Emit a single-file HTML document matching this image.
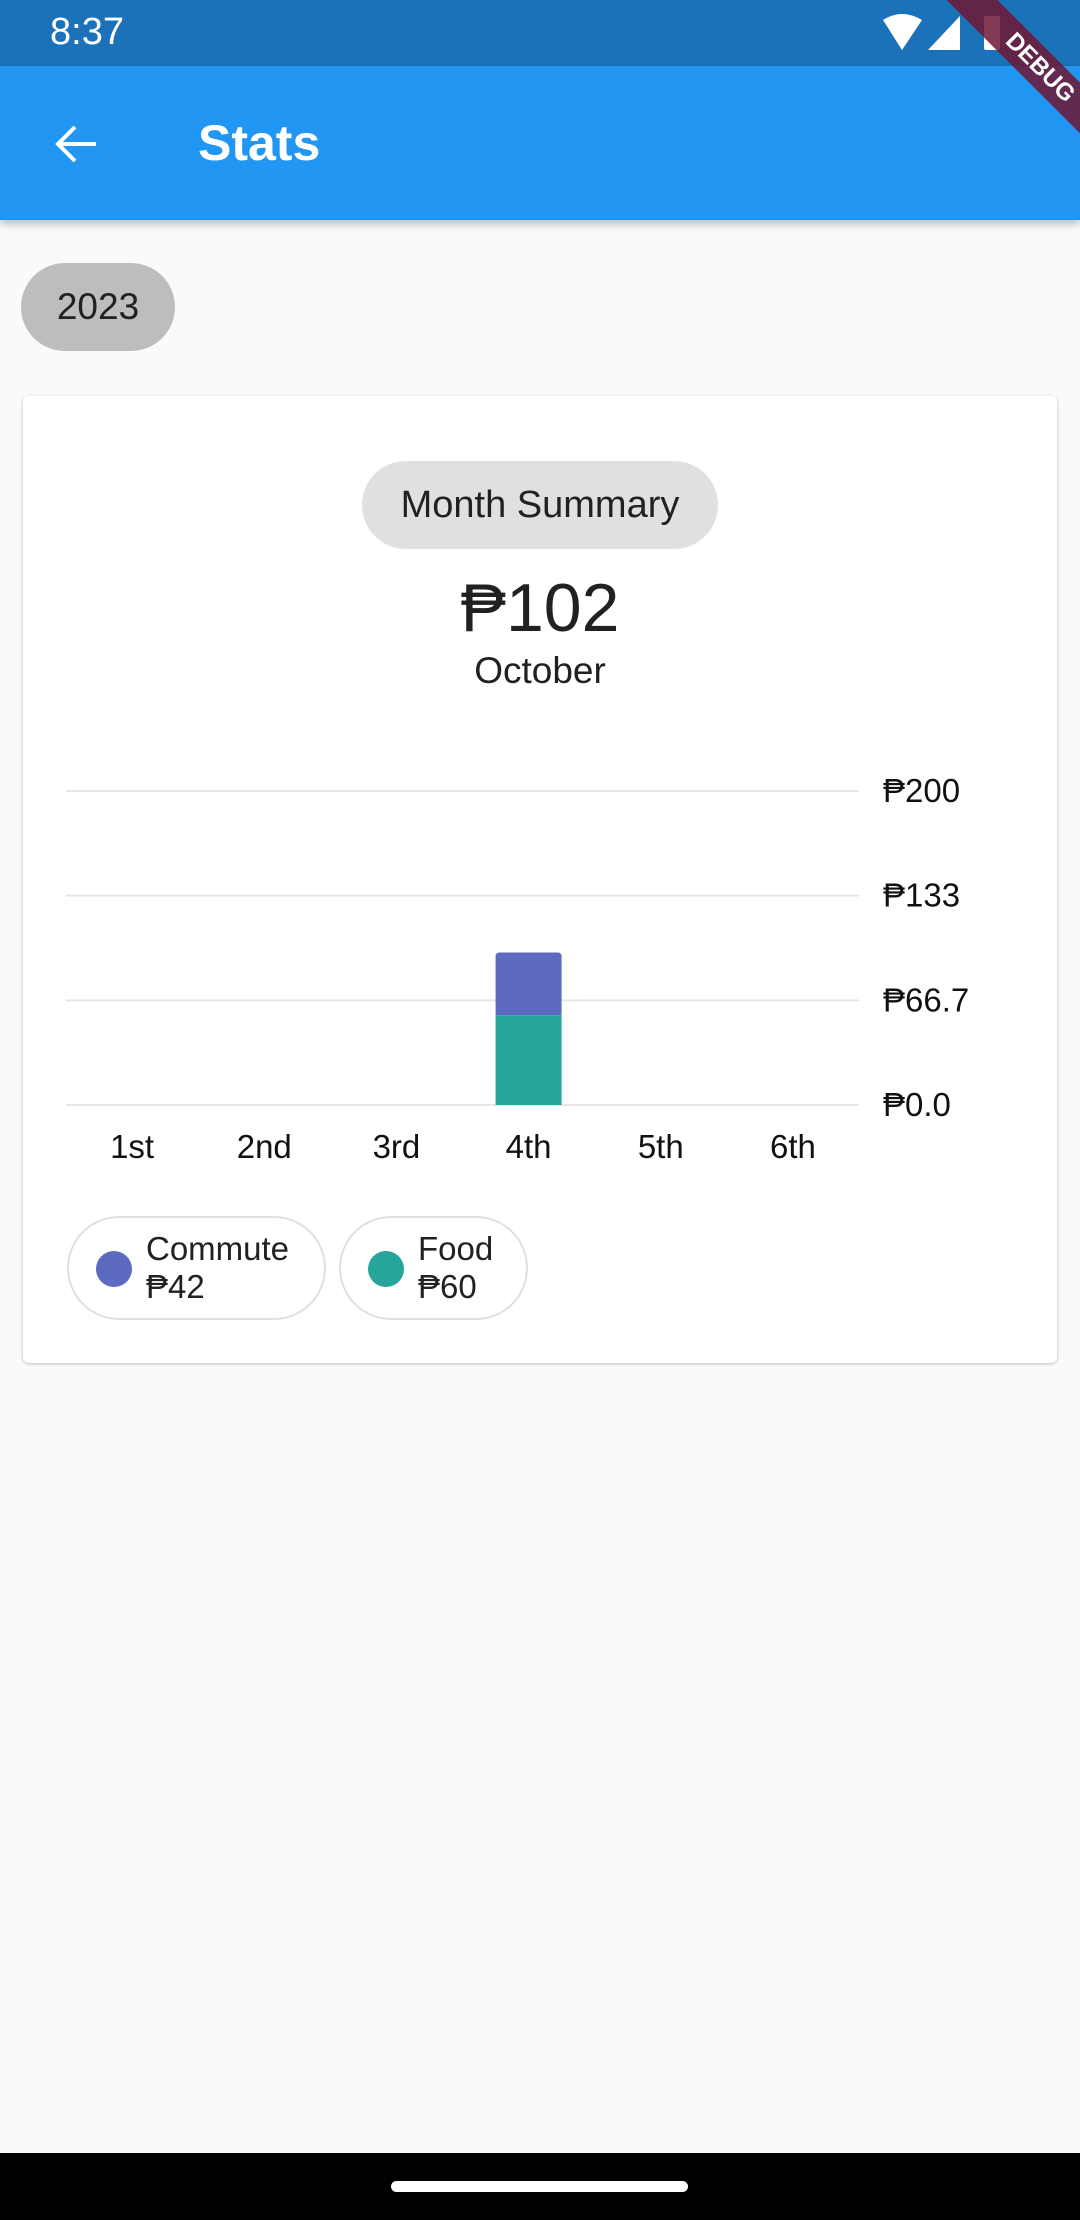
<!DOCTYPE html>
<html><head><meta charset="utf-8">
<style>
*{margin:0;padding:0;box-sizing:border-box}
body{width:1080px;height:2220px;background:#fafafa;font-family:"Liberation Sans",sans-serif;position:relative;overflow:hidden;color:#212121}
.abs{position:absolute}
</style></head><body>
<div class="abs" style="left:0;top:0;width:1080px;height:66px;background:#1b72b8">
  <div class="abs" style="left:50px;top:11px;color:#fff;font-size:38px">8:37</div>
  <svg class="abs" style="left:880px;top:14px" width="130" height="40">
    <path d="M3 6 Q22 -6 42 6 L22 36 Z" fill="#fff"/>
    <path d="M48 36 L80 2 L80 36 Z" fill="#fff"/>
    <rect x="104" y="2" width="16" height="34" rx="2" fill="#fff"/>
  </svg>
</div>
<div class="abs" style="left:0;top:66px;width:1080px;height:154px;background:#2196f3;box-shadow:0 4px 8px rgba(0,0,0,0.25)">
  <svg class="abs" style="left:52px;top:54px" width="48" height="48" viewBox="0 0 48 48">
    <path d="M44 24 H8 M23 7 L6 24 L23 41" stroke="#fff" stroke-width="4" fill="none"/>
  </svg>
  <div class="abs" style="left:198px;top:48px;color:#fff;font-size:50px;font-weight:bold">Stats</div>
</div>
<div class="abs" style="left:905px;top:50px;width:270px;height:36px;background:rgba(110,24,52,0.85);transform:rotate(45deg);color:#fff;font-size:24px;font-weight:bold;text-align:center;line-height:36px">DEBUG</div>
<div class="abs" style="left:21px;top:263px;width:154px;height:88px;border-radius:44px;background:#bdbdbd;font-size:37px;text-align:center;line-height:88px">2023</div>
<div class="abs" style="left:23px;top:396px;width:1034px;height:967px;background:#fff;border-radius:6px;box-shadow:0 1px 3px rgba(0,0,0,0.25)"></div>
<div class="abs" style="left:362px;top:461px;width:356px;height:88px;border-radius:44px;background:#e0e0e0;font-size:38px;text-align:center;line-height:88px">Month Summary</div>
<div class="abs" style="left:290px;top:568px;width:500px;text-align:center;font-size:68px;line-height:80px">₱102</div>
<div class="abs" style="left:340px;top:650px;width:400px;text-align:center;font-size:37px;line-height:42px">October</div>
<svg class="abs" id="chart" style="left:0;top:0" width="1080" height="1250"></svg>
<div class="abs" style="left:67px;top:1216px;width:259px;height:104px;border:2px solid #e0e0e0;border-radius:52px">
  <div class="abs" style="left:27px;top:33px;width:36px;height:36px;border-radius:50%;background:#5c6bc0"></div>
  <div class="abs" style="left:77px;top:12px;font-size:33px;line-height:38px">Commute<br>₱42</div>
</div>
<div class="abs" style="left:339px;top:1216px;width:189px;height:104px;border:2px solid #e0e0e0;border-radius:52px">
  <div class="abs" style="left:27px;top:33px;width:36px;height:36px;border-radius:50%;background:#26a69a"></div>
  <div class="abs" style="left:77px;top:12px;font-size:33px;line-height:38px">Food<br>₱60</div>
</div>
<div class="abs" style="left:0;top:2153px;width:1080px;height:67px;background:#000">
  <div class="abs" style="left:391px;top:28px;width:297px;height:11px;border-radius:6px;background:#fff"></div>
</div>
<script>
const categories=["1st","2nd","3rd","4th","5th","6th"];
const foodValues=[0,0,0,60,0,0];
const commuteValues=[0,0,0,42,0,0];
const tickValues=[0,66.7,133,200];
const tickLabels=["₱0.0","₱66.7","₱133","₱200"];
const yMax=210;
const svg=document.getElementById('chart');
const NS="http://www.w3.org/2000/svg";
const x0=66,x1=859,yBase=1105,yTop=791;
const y=v=>yBase-(v/yMax)*(yBase-yTop);
const gy=i=>yBase-i*(yBase-yTop)/(tickValues.length-1);
const band=(x1-x0)/categories.length;
const xc=i=>x0+band*(i+0.5);
function mk(t,a){const e=document.createElementNS(NS,t);for(const k in a)e.setAttribute(k,a[k]);svg.appendChild(e);return e;}
tickValues.forEach((v,i)=>{
  const l=mk('line',{x1:x0,x2:x1,y1:gy(i),y2:gy(i),stroke:'#e6e6e6','stroke-width':2});
  
  
  const t=mk('text',{x:883,y:gy(i)+11,'font-size':33,'font-family':'Liberation Sans, sans-serif',fill:'#111'});
  t.textContent=tickLabels[i];
  
  
});
categories.forEach((c,i)=>{
  const t=mk('text',{x:xc(i),y:1158,'text-anchor':'middle','font-size':33,'font-family':'Liberation Sans, sans-serif',fill:'#111'});
  t.textContent=c;
  
  
  const bw=66;
  if(foodValues[i]>0){
    const r=mk('rect',{x:xc(i)-bw/2,y:y(foodValues[i]),width:bw,height:yBase-y(foodValues[i]),fill:'#26a69a'});
    
    
  }
  if(commuteValues[i]>0){
    const top=y(foodValues[i]+commuteValues[i]),bot=y(foodValues[i]);
    const p=mk('path',{d:`M${xc(i)-bw/2} ${bot} V${top+4} Q${xc(i)-bw/2} ${top} ${xc(i)-bw/2+4} ${top} H${xc(i)+bw/2-4} Q${xc(i)+bw/2} ${top} ${xc(i)+bw/2} ${top+4} V${bot} Z`,fill:'#5c6bc0'});
    
    
  }
});
</script>
</body></html>
